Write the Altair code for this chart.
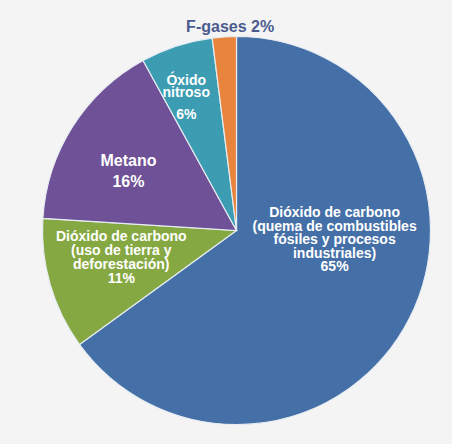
import altair as alt
import pandas as pd

categories = [
    "CO2 combustibles fósiles",
    "CO2 uso de tierra",
    "Metano",
    "Óxido nitroso",
    "F-gases",
]
values = [65, 11, 16, 6, 2]
names = [
    "Dióxido de carbono\n(quema de combustibles\nfósiles y procesos\nindustriales)",
    "Dióxido de carbono\n(uso de tierra y\ndeforestación)",
    "Metano",
    "Óxido\nnitroso",
    "F-gases",
]
colors = ["#4570a7", "#86a842", "#6f5197", "#3b9cb2", "#e8843b"]

pct = [f"{v}%" for v in values]
full = [n + "\n" + p for n, p in zip(names, pct)]
full[4] = names[4] + " " + pct[4]

df = pd.DataFrame({
    "idx": list(range(len(categories))),
    "cat": categories,
    "value": values,
    "name": names,
    "pct": pct,
    "full": full,
})

base = alt.Chart(df).encode(
    theta=alt.Theta("value:Q", stack=True),
    order=alt.Order("idx:Q", sort="ascending"),
)

arcs = base.mark_arc(outerRadius=194, stroke="#e6ecf2", strokeWidth=1.2).encode(
    color=alt.Color("cat:N", scale=alt.Scale(domain=categories, range=colors), legend=None)
)


def label(i, field, radius, dx, dy, size, lh=14, color="white"):
    return base.transform_calculate(
        txt=f"datum.idx == {i} ? datum.{field} : ''"
    ).mark_text(
        radius=radius, dx=dx, dy=dy, fontSize=size, lineHeight=lh,
        font="Liberation Sans", fontWeight="bold", color=color,
        lineBreak="\n", align="center", baseline="middle",
    ).encode(text="txt:N")


layers = [
    arcs,
    label(0, "full", 100, 9, -62.5, 14, 13.5),
    label(1, "full", 120, 0, -26.5, 14, 14),
    label(2, "full", 125, -2.5, -3, 16, 21),
    label(3, "name", 140, -7, -16.3, 14, 11.5),
    label(3, "pct", 140, -7, 17.5, 14, 14),
    label(4, "full", 205, 6.5, 1.5, 16, 16, "#4b5b8f"),
]

chart = alt.layer(*layers).properties(
    width=400,
    height=400,
    autosize=alt.AutoSizeParams(type="none"),
    padding={"left": 36.5, "top": 30.5, "right": 15.5, "bottom": 13.5},
    background="#f4f4f4",
).configure_view(stroke=None)

chart.save("out.html", embed_options={"renderer": "svg", "actions": False})
